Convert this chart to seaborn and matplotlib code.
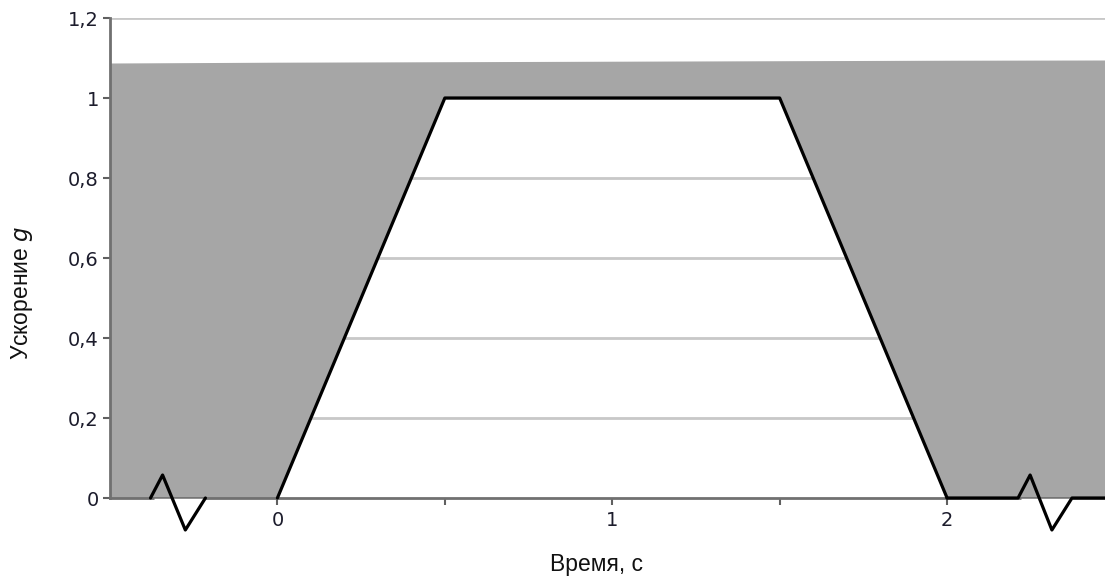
import matplotlib
matplotlib.use("Agg")
import matplotlib.pyplot as plt
import seaborn as sns
import pandas as pd
from matplotlib.ticker import FixedLocator

# ---- data ----
pulse_time = [0.0, 0.5, 1.5, 2.0]
pulse_accel = [0.0, 1.0, 1.0, 0.0]
x_min, x_max = -0.5, 2.4716
fill_time = [-0.5, 0.0, 0.5, 1.5, 2.0, 2.4716]
fill_lower = [0.0, 0.0, 1.0, 1.0, 0.0, 0.0]
fill_upper = [1.0875, 1.0895, 1.0907, 1.0932, 1.0944, 1.095]
left_line_time = [-0.379, -0.343, -0.275, -0.215]
left_line_accel = [0.0, 0.0575, -0.08, 0.0]
right_line_time = [2.0, 2.212, 2.248, 2.313, 2.373, 2.4716]
right_line_accel = [0.0, 0.0, 0.0575, -0.08, 0.0, 0.0]
y_ticks = [0.0, 0.2, 0.4, 0.6, 0.8, 1.0, 1.2]
y_tick_labels = ["0", "0,2", "0,4", "0,6", "0,8", "1", "1,2"]
x_ticks = [0, 1, 2]
x_tick_labels = ["0", "1", "2"]

sns.set_theme(style="white")
plt.rcParams['font.family'] = ['DejaVu Sans']

fig = plt.figure(figsize=(11.05, 5.76), dpi=100)
ax = fig.add_axes([110 / 1105, 78 / 576, 995 / 1105, 480 / 576])

ax.set_xlim(x_min, x_max)
ax.set_ylim(0, 1.2)

# grid
for yv in y_ticks[1:]:
    ax.axhline(yv, color="#c8c8c8", lw=2, zorder=1)

# gray fill
ax.fill_between(fill_time, fill_lower, fill_upper, color="#a6a6a6", lw=0, zorder=2)

# white gaps under break marks
ax.plot([-0.37, -0.215], [-0.006, -0.006], color="white", lw=2.5, zorder=4, clip_on=False,
        solid_capstyle="butt")
ax.plot([2.22, 2.373], [-0.006, -0.006], color="white", lw=2.5, zorder=4, clip_on=False,
        solid_capstyle="butt")

df_pulse = pd.DataFrame({"t": pulse_time, "a": pulse_accel})
df_left = pd.DataFrame({"t": left_line_time, "a": left_line_accel})
df_right = pd.DataFrame({"t": right_line_time, "a": right_line_accel})
for df in (df_pulse, df_left, df_right):
    sns.lineplot(data=df, x="t", y="a", sort=False, estimator=None, color="black",
                 lw=2.3, ax=ax, zorder=5, clip_on=False)

# spines
for s in ("top", "right"):
    ax.spines[s].set_visible(False)
for s in ("left", "bottom"):
    ax.spines[s].set_color("#707070")
    ax.spines[s].set_linewidth(2)
    ax.spines[s].set_zorder(3)

ax.set_yticks(y_ticks)
ax.set_yticklabels(y_tick_labels)
ax.xaxis.set_major_locator(FixedLocator(x_ticks))
ax.set_xticklabels(x_tick_labels)
ax.xaxis.set_minor_locator(FixedLocator([0.5, 1.5]))
ax.tick_params(axis="y", which="major", left=True, length=5, width=1.5, color="#606060",
               labelsize=14, labelcolor="#1c1c2c", pad=3)
ax.tick_params(axis="x", which="both", bottom=True, length=5, width=1.5, color="#606060",
               labelsize=14, labelcolor="#1c1c2c", pad=4)

ax.set_xlabel("Время, с", family="Liberation Sans", fontsize=16.5, color="#111111")
ax.set_ylabel("Ускорение $g$", family="Liberation Sans", fontsize=16.5, color="#111111")
ax.xaxis.label.set_va("center")
ax.yaxis.label.set_va("center")
ax.xaxis.set_label_coords((596 - 110) / 995, -(564 - 498) / 480)
ax.yaxis.set_label_coords(-(110 - 22) / 995, (498 - 293) / 480)

fig.savefig("out.png", dpi=100)
